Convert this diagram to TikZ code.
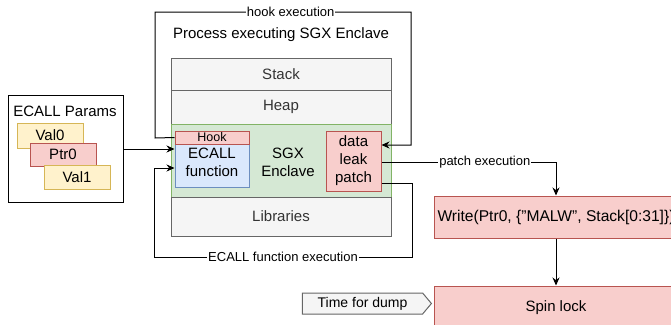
\documentclass[tikz,border=0pt]{standalone}
\usepackage{fontspec}
\setmainfont{Liberation Sans}
\usetikzlibrary{arrows.meta,shapes.symbols,calc}
\definecolor{pinkF}{HTML}{F8CECC}
\definecolor{pinkD}{HTML}{B85450}
\definecolor{yelF}{HTML}{FFF2CC}
\definecolor{yelD}{HTML}{D6B656}
\definecolor{bluF}{HTML}{DAE8FC}
\definecolor{bluD}{HTML}{6C8EBF}
\definecolor{grnF}{HTML}{D5E8D4}
\definecolor{grnD}{HTML}{82B366}
\definecolor{gryF}{HTML}{F5F5F5}
\definecolor{gryD}{HTML}{666666}
\definecolor{gryT}{HTML}{333333}
\tikzset{
  box/.style={draw, line width=1pt, inner sep=0pt, align=center, font=\fontsize{15}{18}\selectfont},
  layer/.style={box, fill=gryF, draw=gryD, text=gryT, minimum width=220pt},
  pinkbox/.style={box, fill=pinkF, draw=pinkD},
  yelbox/.style={box, fill=yelF, draw=yelD, minimum width=66pt},
  blubox/.style={box, fill=bluF, draw=bluD},
  arr/.style={draw, line width=1pt, -{Stealth[length=8pt,width=7pt]}},
  plain/.style={draw, line width=1pt},
  lbl/.style={fill=white, inner sep=1pt, font=\fontsize{13}{15}\selectfont},
  title/.style={inner sep=0pt, font=\fontsize{15}{18}\selectfont}
}
\begin{document}
\begin{tikzpicture}[x=1pt,y=-1pt]
\useasboundingbox (0,0) rectangle (671,324);
\clip (0,0) rectangle (671,324);

% ECALL Params group
\node[box, draw=black, fill=white, minimum width=115pt, minimum height=107pt] (params) at (65.5,148.5) {};
\node[title] (ptitle) at (65,111) {ECALL Params};
\node[yelbox, minimum height=25pt] (val0) at (50,135.5) {Val0};
\node[pinkbox, minimum width=66pt, minimum height=23pt] (ptr0) at (63,154.5) {Ptr0};
\node[yelbox, minimum height=24pt] (val1) at (77,177) {Val1};

% process
\node[title] (ptitle2) at (281,35) {Process executing SGX Enclave};
\node[layer, minimum height=32pt] (stack) at (281,74) {Stack};
\node[layer, minimum height=34pt] (heap) at (281,107) {Heap};
\node[box, fill=grnF, draw=grnD, minimum width=220pt, minimum height=73pt] (encl) at (281,160.5) {};
\node[layer, minimum height=39pt] (libs) at (281,216.5) {Libraries};
\node[title, align=center] (sgx) at (288,162) {SGX\\Enclave};
\node[blubox, minimum width=74pt, minimum height=50pt] (ecall) at (212,162) {ECALL\\function};
\node[pinkbox, minimum width=74pt, minimum height=13pt, font=\fontsize{12.5}{13}\selectfont] (hook) at (212,137.5) {Hook};
\node[pinkbox, minimum width=55pt, minimum height=60pt] (patch) at (353.5,161) {data\\leak\\patch};

% right side
\node[pinkbox, minimum width=244pt, minimum height=42pt, font=\fontsize{15.6}{18}\selectfont] (write) at (556,217) {Write(Ptr0, \{"MALW", Stack[0:31]\})};
\node[pinkbox, minimum width=244pt, minimum height=44pt] (spin) at (556,308) {Spin lock};
\node[signal, signal to=east, signal pointer angle=100, draw=gryD, fill=gryF, text=black, line width=1pt, inner sep=0pt, minimum width=129pt, minimum height=21pt, font=\fontsize{14}{16}\selectfont] (dump) at (362.5,303.5) {Time for dump};

% connectors
\coordinate (pout) at (params.east |- 0,149);
\coordinate (ein) at (ecall.west |- 0,149);
\draw[arr] (pout) -- (ein);

\coordinate (hk1) at (155,138);
\coordinate (hk2) at (155,12);
\coordinate (hk3) at (411,12);
\coordinate (hk4) at (411,145);
\coordinate (pin) at (patch.east |- 0,145);
\draw[arr] (hook.west) -- (hk1) -- (hk2) -- node[lbl, pos=0.53]{hook execution} (hk3) -- (hk4) -- (pin);

\coordinate (px) at (patch.east |- 0,162);
\draw[arr] (px) -| node[lbl, pos=0.296]{patch execution} (write.north);

\coordinate (ex0) at (patch.east |- 0,183);
\coordinate (ex1) at (412,183);
\coordinate (ex2) at (412,257);
\coordinate (ex3) at (154,257);
\coordinate (ex4) at (154,168);
\coordinate (ein2) at (ecall.west |- 0,168);
\draw[arr] (ex0) -- (ex1) -- (ex2) -- node[lbl, pos=0.5]{ECALL function execution} (ex3) -- (ex4) -- (ein2);

\draw[arr] (write.south) -- (spin.north);
\end{tikzpicture}
\end{document}
